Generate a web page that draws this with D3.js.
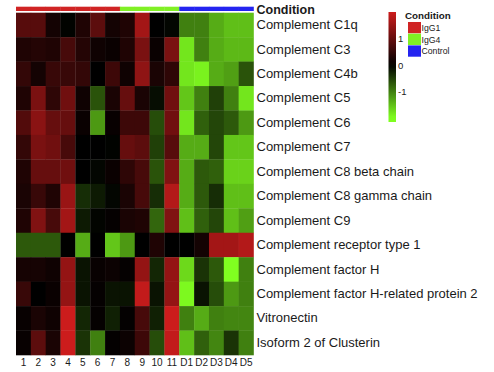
<!DOCTYPE html>
<html>
<head>
<meta charset="utf-8">
<script src="https://cdn.jsdelivr.net/npm/d3@7"></script>
<style>
  body { margin: 0; background: #fff; }
  svg { display: block; font-family: "Liberation Sans", Arial, sans-serif; }
</style>
</head>
<body>
<svg id="drawing_region" width="494" height="372"></svg>
<script>
// samples and their condition
var samples = ["1","2","3","4","5","6","7","8","9","10","11","D1","D2","D3","D4","D5"];
var conditions = ["IgG1","IgG1","IgG1","IgG1","IgG1","IgG1","IgG1",
                  "IgG4","IgG4","IgG4","IgG4",
                  "Control","Control","Control","Control","Control"];
var conditionNames = ["IgG1","IgG4","Control"];
var conditionColors = ["#d02424","#80f024","#2424f0"];

var proteins = [
    "Complement C1q",
    "Complement C3",
    "Complement C4b",
    "Complement C5",
    "Complement C6",
    "Complement C7",
    "Complement C8 beta chain",
    "Complement C8 gamma chain",
    "Complement C9",
    "Complement receptor type 1",
    "Complement factor H",
    "Complement factor H-related protein 2",
    "Vitronectin",
    "Isoform 2 of Clusterin"
];

// scaled expression, one row per protein, one column per sample
var values = [
    [0.85, 0.85, 0.2, -0.02, 0.3, 0.9, 0.2, 0.3, 1.6, 0, -0.05, -1.0, -1.0, -1.35, -1.5, -1.5],
    [0.3, 0.35, 0.3, 0.7, 0.35, 0.15, 0.1, 0.3, 1.2, 0.1, 1.2, -1.8, -1.0, -1.35, -1.45, -1.45],
    [0.5, 0.2, 0.55, 0.55, 0.5, 0, 0.6, 0.15, 1.4, 0.25, 0.45, -1.8, -1.9, -1.35, -1.25, -0.65],
    [0.3, 1.2, 0.45, 1.1, 0.15, -0.65, 0.25, 1.0, 0.25, -0.1, 1.1, -1.55, -1.0, -0.5, -1.0, -1.8],
    [0.8, 1.35, 1.0, 1.0, 0.1, -1.2, 0.08, 0.6, 0.6, -0.6, 1.1, -1.8, -0.75, -0.55, -0.7, -1.2],
    [0.5, 1.2, 1.1, 0.7, 0, 0, -0.02, 1.0, 0.9, -0.5, 0.85, -1.35, -1.35, -0.55, -1.55, -1.55],
    [0.3, 1.0, 1.0, 1.1, 0, -0.05, 0.1, 0.45, 0.7, -0.65, 1.25, -1.35, -0.7, -0.75, -1.65, -1.65],
    [0.25, 0.55, 0.3, 1.5, -0.35, -0.2, -0.05, 0.25, 0.7, -0.35, 1.75, -1.35, -0.7, -0.35, -1.5, -1.5],
    [0.3, 1.25, 0.7, 1.6, -0.2, -0.03, 0.05, 0.25, 0.3, -0.8, 1.25, -1.5, -0.75, -0.55, -1.5, -1.25],
    [-0.7, -0.7, -0.7, 0, -1.35, 0, -1.55, -1.2, 0, 0.3, 0, 0, 0.2, 1.6, 1.6, 1.75],
    [0.22, 0.22, 0.15, 1.45, -0.15, 0.08, 0.12, 0.05, 1.45, -0.3, 1.45, -1.7, -0.4, -0.7, -2.05, -1.0],
    [0.55, 0, 0.1, 1.45, -0.15, 0.05, -0.15, -0.15, 1.9, -0.15, 1.45, -1.95, -0.15, -0.6, -1.2, -1.0],
    [0.08, 0.25, 0.15, 2.0, -0.3, 0.05, -0.25, 0.04, 0.7, -0.25, 2.0, -1.0, -1.35, -1.0, -1.05, -1.05],
    [0.08, 0.9, 0.25, 2.05, -0.4, -1.0, 0.04, 0.12, 0.6, -0.6, 1.9, -1.5, -0.75, -1.05, -0.4, -1.0]
];

var legendTicks = [-1, 0, 1];

var config = {
    width: 494,
    height: 372,
    heat: {left: 16, right: 253.5, top: 12.7, bottom: 355},
    bar: {top: 6.7, height: 4.3},
    key: {x: 388.5, width: 7.5, top: 12, bottom: 122, min: -2.15, max: 2.0},
    textColor: "#1a1a1a"
};

var svg = d3.select('#drawing_region');

var xscale = d3.scaleBand()
    .domain(samples)
    .range([config.heat.left, config.heat.right]);

var yscale = d3.scaleBand()
    .domain(proteins)
    .range([config.heat.top, config.heat.bottom]);

var color = d3.scaleLinear()
    .domain([-2, 0, 2])
    .range(["#80ff20", "#000000", "#cc1c1c"])
    .clamp(true);

var condColor = d3.scaleOrdinal()
    .domain(conditionNames)
    .range(conditionColors);

// cells
var cells = [];
values.forEach((row, i) => {
    row.forEach((v, j) => {
        cells.push({protein: proteins[i], sample: samples[j], value: v});
    });
});

svg.append("g")
    .selectAll("rect")
    .data(cells)
    .join("rect")
    .attr("x", d => xscale(d.sample))
    .attr("y", d => yscale(d.protein))
    .attr("width", xscale.bandwidth() + 0.3)
    .attr("height", yscale.bandwidth() + 0.3)
    .attr("fill", d => color(d.value));

// condition bar on top
svg.append("g")
    .selectAll("rect")
    .data(samples)
    .join("rect")
    .attr("x", d => xscale(d))
    .attr("y", config.bar.top)
    .attr("width", xscale.bandwidth() + 0.3)
    .attr("height", config.bar.height)
    .attr("fill", (d, i) => condColor(conditions[i]));

svg.append("text")
    .attr("x", config.heat.right + 3)
    .attr("y", 13.5)
    .attr("font-size", 12.5)
    .attr("font-weight", "bold")
    .attr("fill", config.textColor)
    .text("Condition");

// row labels
svg.append("g")
    .attr("transform", `translate(${config.heat.right},0)`)
    .call(d3.axisRight(yscale).tickSize(0).tickPadding(3))
    .call(g => g.select(".domain").remove())
    .selectAll("text")
    .attr("font-size", 13)
    .attr("font-family", "Liberation Sans, Arial, sans-serif")
    .attr("fill", config.textColor);

// column labels
svg.append("g")
    .attr("transform", `translate(0,${config.heat.bottom})`)
    .call(d3.axisBottom(xscale).tickSize(0).tickPadding(3.5))
    .call(g => g.select(".domain").remove())
    .selectAll("text")
    .attr("font-size", 10)
    .attr("font-family", "Liberation Sans, Arial, sans-serif")
    .attr("fill", config.textColor);

// colour key
var keyScale = d3.scaleLinear()
    .domain([config.key.min, config.key.max])
    .range([config.key.bottom, config.key.top]);

var grad = svg.append("defs").append("linearGradient")
    .attr("id", "keygrad")
    .attr("x1", 0).attr("y1", 1).attr("x2", 0).attr("y2", 0);

d3.range(0, 1.0001, 0.05).forEach(t => {
    var v = config.key.min + t * (config.key.max - config.key.min);
    grad.append("stop").attr("offset", t).attr("stop-color", color(v));
});

svg.append("rect")
    .attr("x", config.key.x)
    .attr("y", config.key.top)
    .attr("width", config.key.width)
    .attr("height", config.key.bottom - config.key.top)
    .attr("fill", "url(#keygrad)");

svg.append("g")
    .attr("transform", `translate(${config.key.x + config.key.width},0)`)
    .call(d3.axisRight(keyScale).tickValues(legendTicks).tickFormat(d => String(d)).tickSize(0).tickPadding(2))
    .call(g => g.select(".domain").remove())
    .selectAll("text")
    .attr("font-size", 9.5)
    .attr("font-family", "Liberation Sans, Arial, sans-serif")
    .attr("fill", config.textColor);

// condition legend
var legend = svg.append("g").attr("transform", "translate(405,0)");

legend.append("text")
    .attr("x", 0)
    .attr("y", 19)
    .attr("font-size", 9.8)
    .attr("font-weight", "bold")
    .attr("fill", config.textColor)
    .text("Condition");

legend.selectAll("rect")
    .data(conditionNames)
    .join("rect")
    .attr("x", 3)
    .attr("y", (d, i) => 22 + i * 11.7)
    .attr("width", 13)
    .attr("height", 11.3)
    .attr("fill", d => condColor(d));

legend.selectAll("text.lab")
    .data(conditionNames)
    .join("text")
    .attr("class", "lab")
    .attr("x", 16.5)
    .attr("y", (d, i) => 31 + i * 11.7)
    .attr("font-size", 8.7)
    .attr("fill", config.textColor)
    .text(d => d);
</script>
</body>
</html>
